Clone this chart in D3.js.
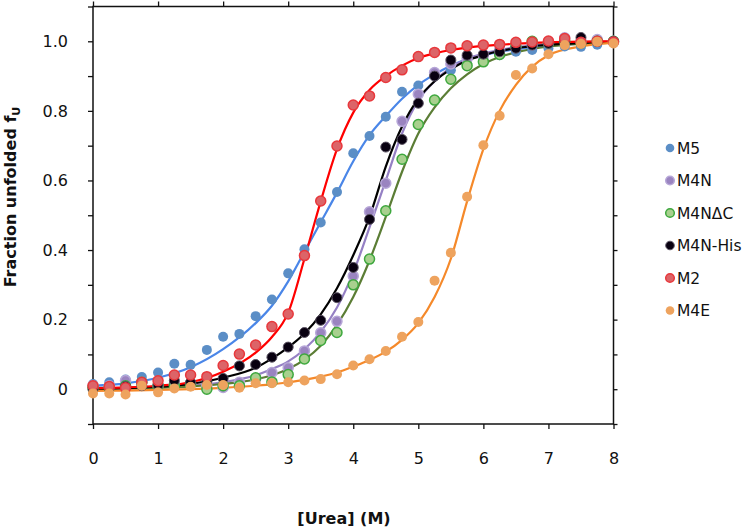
<!DOCTYPE html>
<html><head><meta charset="utf-8">
<script src="https://cdn.jsdelivr.net/npm/d3@7"></script>
<style>
html,body{margin:0;padding:0;background:#fff;}
text{font-family:"DejaVu Sans",Verdana,sans-serif;}
</style></head>
<body><svg id="chart" width="744" height="531"></svg>
<script>
// ---- data ----
const urea = [0,0.25,0.5,0.75,1,1.25,1.5,1.75,2,2.25,2.5,2.75,3,3.25,3.5,3.75,4,4.25,4.5,4.75,5,5.25,5.5,5.75,6,6.25,6.5,6.75,7,7.25,7.5,7.75,8];
const m5     = [0.015,0.02,0.028,0.035,0.048,0.073,0.07,0.113,0.151,0.159,0.21,0.258,0.333,0.402,0.479,0.567,0.678,0.728,0.783,0.855,0.873,0.90,0.917,0.935,0.95,0.96,0.97,0.975,0.98,0.985,0.984,0.99,0.995];
const m4n    = [0.01,0.01,0.025,0.02,0.01,0.015,0.015,0.01,0.005,0.02,0.03,0.048,0.062,0.11,0.162,0.195,0.325,0.51,0.592,0.77,0.848,0.91,0.935,0.95,0.96,0.975,0.985,0.99,0.995,1.01,1.0,1.005,1.0];
const m4ndc  = [0.005,0.005,0.01,0.02,0.01,0.01,0.015,0.0,0.01,0.01,0.033,0.021,0.042,0.087,0.14,0.163,0.3,0.374,0.513,0.661,0.761,0.831,0.891,0.93,0.941,0.962,0.985,1.0,0.995,1.0,0.995,1.0,1.0];
const m4nhis = [0.0,0.005,0.008,0.01,0.012,0.025,0.02,0.022,0.031,0.067,0.071,0.092,0.121,0.163,0.198,0.263,0.35,0.488,0.696,0.718,0.822,0.90,0.946,0.96,0.963,0.97,0.98,0.989,0.994,1.0,1.011,1.0,1.0];
const m2     = [0.01,0.008,0.004,0.02,0.024,0.041,0.041,0.036,0.068,0.101,0.127,0.18,0.216,0.384,0.541,0.699,0.817,0.843,0.896,0.918,0.956,0.968,0.981,0.987,0.989,0.991,0.997,0.998,1.001,1.008,0.997,1.0,0.998];
const m4e    = [-0.012,-0.012,-0.015,0.01,-0.009,0.002,0.007,0.012,0.012,0.004,0.017,0.017,0.02,0.025,0.029,0.043,0.068,0.086,0.11,0.151,0.193,0.312,0.392,0.553,0.701,0.786,0.903,0.922,0.963,0.989,0.992,0.999,0.994];

// fitted curves
const fitUrea   = [0,0.5,1,1.5,2,2.5,2.75,3,3.25,3.5,3.75,4,4.25,4.5,4.75,5,5.25,5.5,5.75,6,6.25,6.5,7,7.5,8];
const fitM5     = [0.01,0.017,0.033,0.063,0.115,0.19,0.24,0.31,0.395,0.48,0.565,0.655,0.73,0.785,0.835,0.875,0.905,0.93,0.948,0.96,0.97,0.977,0.987,0.993,0.997];
const fitM4n    = [0.0,0.002,0.005,0.01,0.02,0.04,0.058,0.08,0.115,0.165,0.235,0.335,0.465,0.6,0.735,0.83,0.885,0.925,0.95,0.965,0.975,0.983,0.992,0.997,1.0];
const fitM4ndc  = [0.0,0.002,0.004,0.008,0.015,0.028,0.04,0.058,0.085,0.125,0.185,0.265,0.37,0.495,0.625,0.735,0.81,0.865,0.905,0.935,0.955,0.968,0.985,0.993,0.998];
const fitM4nhis = [0.0,0.003,0.007,0.015,0.033,0.062,0.088,0.12,0.16,0.215,0.29,0.385,0.495,0.64,0.755,0.835,0.885,0.92,0.945,0.96,0.972,0.98,0.99,0.995,0.998];
const fitM2     = [0.003,0.005,0.01,0.02,0.05,0.105,0.15,0.22,0.375,0.54,0.69,0.795,0.86,0.9,0.93,0.952,0.965,0.975,0.982,0.987,0.99,0.993,0.997,0.999,1.0];
const fitM4e    = [-0.005,-0.004,-0.002,0.0,0.004,0.01,0.014,0.02,0.027,0.036,0.048,0.065,0.084,0.108,0.142,0.19,0.265,0.375,0.54,0.69,0.8,0.875,0.96,0.985,0.996];

const seriesNames = ["M5","M4N","M4N\u0394C","M4N-His","M2","M4E"];
const xTicks = [0,1,2,3,4,5,6,7,8];
const yTicks = [-0.1,0,0.1,0.2,0.3,0.4,0.5,0.6,0.7,0.8,0.9,1.0,1.1];
const yLabelled = [0,0.2,0.4,0.6,0.8,1.0];

// ---- styles ----
const FONT = "'DejaVu Sans',Verdana,sans-serif";
const styles = [
  {fill:"#5b8ec6", stroke:"none", sw:0, line:"#4a86e8"},
  {fill:"#9a84c0", stroke:"#b7a7d8", sw:1.5, line:"#9580c4"},
  {fill:"#a8d08e", stroke:"#3ea83e", sw:1.5, line:"#5b7d35"},
  {fill:"#080010", stroke:"#5a5262", sw:1, line:"#000000"},
  {fill:"#dc6468", stroke:"#e8383c", sw:1.5, line:"#ff0000"},
  {fill:"#eea35e", stroke:"none", sw:0, line:"#f5892a"}
];
const pointSets = [m5, m4n, m4ndc, m4nhis, m2, m4e];
const fitSets = [fitM5, fitM4n, fitM4ndc, fitM4nhis, fitM2, fitM4e];

const svg = d3.select("#chart");
const xs = d3.scaleLinear().domain([0,8]).range([93,613.5]);
const ys = d3.scaleLinear().domain([-0.1,1.1]).range([424,6.5]);

const g = svg.append("g");
g.append("rect").attr("x",xs(0)).attr("y",ys(1.1)).attr("width",xs(8)-xs(0)).attr("height",ys(-0.1)-ys(1.1))
  .attr("fill","none").attr("stroke","#111").attr("stroke-width",1.5);

const fmtY = v => Math.abs(v) < 1e-9 ? "0" : d3.format(".1f")(v);
const isLab = v => yLabelled.some(l => Math.abs(l - v) < 1e-9);
const axLeft = g.append("g").attr("transform",`translate(${xs(0)},0)`)
  .call(d3.axisLeft(ys).tickValues(yTicks).tickSize(5).tickPadding(20).tickFormat(v => isLab(v) ? fmtY(v) : ""));
const axBottom = g.append("g").attr("transform",`translate(0,${ys(-0.1)})`)
  .call(d3.axisBottom(xs).tickValues(xTicks).tickSize(5).tickPadding(24).tickFormat(d3.format("d")));
const axTop = g.append("g").attr("transform",`translate(0,${ys(1.1)})`)
  .call(d3.axisTop(xs).tickValues(xTicks).tickSize(5).tickFormat(""));
const axRight = g.append("g").attr("transform",`translate(${xs(8)},0)`)
  .call(d3.axisRight(ys).tickValues(yTicks).tickSize(4).tickFormat(""));
[axLeft,axBottom,axTop,axRight].forEach(a => {
  a.select(".domain").remove();
  a.selectAll(".tick line").attr("stroke","#111").attr("stroke-width",1.3);
  a.selectAll("text").attr("fill","#111").style("font-size","16px").style("font-family",FONT);
});

const lineGen = d3.line().curve(d3.curveMonotoneX);
fitSets.forEach((fs,i) => {
  g.append("path")
    .attr("d", lineGen(fitUrea.map((u,k) => [xs(u), ys(fs[k])])))
    .attr("fill","none").attr("stroke",styles[i].line).attr("stroke-width",2.2);
});

pointSets.forEach((ps,i) => {
  const st = styles[i];
  g.append("g").selectAll("circle").data(ps).join("circle")
    .attr("cx",(d,k) => xs(urea[k])).attr("cy",d => ys(d)).attr("r",5)
    .attr("fill",st.fill).attr("stroke",st.stroke).attr("stroke-width",st.sw);
});

const legY0 = 148, legStep = 32.5;
seriesNames.forEach((name,i) => {
  const st = styles[i];
  const ly = legY0 + i*legStep;
  svg.append("circle").attr("cx",670).attr("cy",ly).attr("r",4.3)
    .attr("fill",st.fill).attr("stroke",st.stroke).attr("stroke-width",st.sw);
  svg.append("text").attr("x",677).attr("y",ly).attr("dy","0.36em")
    .style("font-size","15.5px").style("font-family",FONT).attr("fill","#111").text(name);
});

svg.append("text").attr("x",344).attr("y",518).attr("dy","0.36em").attr("text-anchor","middle")
  .style("font-size","16px").style("font-weight","bold").style("font-family",FONT).attr("fill","#111").text("[Urea] (M)");
const yt = svg.append("text").attr("transform","translate(16,197) rotate(-90)").attr("text-anchor","middle")
  .style("font-size","16px").style("font-weight","bold").style("font-family",FONT).attr("fill","#111");
yt.append("tspan").text("Fraction unfolded f");
yt.append("tspan").attr("dy","4").style("font-size","11px").text("U");
</script></body></html>
